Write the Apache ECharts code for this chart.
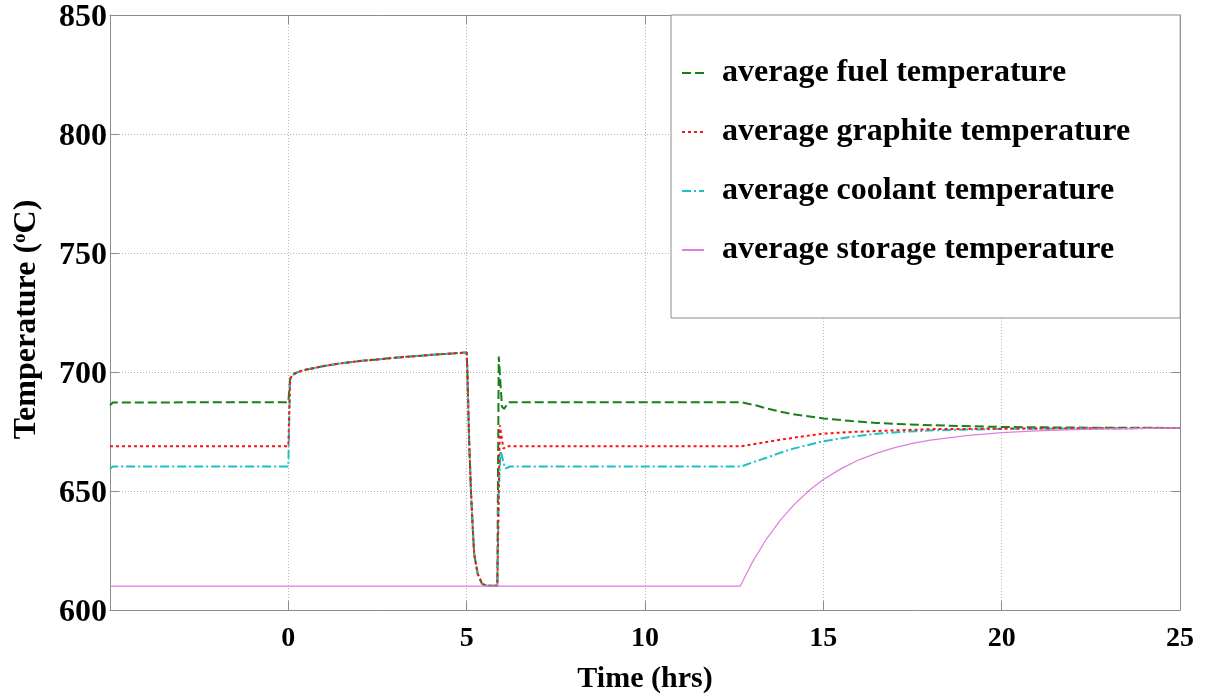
<!DOCTYPE html>
<html>
<head>
<meta charset="utf-8">
<script src="https://cdn.jsdelivr.net/npm/echarts@6/dist/echarts.min.js"></script>
<style>
html,body{margin:0;padding:0;background:#fff;}
#chart{width:1210px;height:698px;}
</style>
</head>
<body>
<div id="chart"></div>
<script>
// ---- data (time in hrs, temperature in °C) ----
const seriesNames = ['average fuel temperature','average graphite temperature','average coolant temperature','average storage temperature'];
const xTicks = [0, 5, 10, 15, 20, 25];
const yTicks = [600, 650, 700, 750, 800, 850];

// steady state before t = 0
const preT = [-5, -4.92, 0];
const fuelPre = [686.0, 687.2, 687.3];
const graphitePre = [668.8, 668.8, 668.8];
const coolantPre = [659.3, 660.3, 660.3];

// common transient (all three core temperatures coincide)
const commonT = [0.05, 0.1, 0.2, 0.4, 0.7, 1, 1.5, 2, 2.5, 3, 3.5, 4, 4.5, 5, 5.02, 5.07, 5.12, 5.17, 5.21, 5.31, 5.43, 5.57, 5.86];
const commonV = [697, 698.5, 699.5, 700.7, 701.6, 702.5, 703.7, 704.6, 705.3, 706, 706.6, 707.2, 707.7, 708.2, 700, 671, 650, 634.6, 623.6, 615.2, 611, 610.2, 610.2];

// recovery and long-term behaviour
const fuelPostT = [5.88, 5.9, 5.99, 6.05, 6.17, 12.7, 13.1, 13.41, 13.8, 14.16, 15, 15.8, 16.5, 17.3, 18.1, 20, 22.5, 25];
const fuelPostV = [660, 706.5, 685.4, 684.5, 687.3, 687.3, 686.0, 684.7, 683.3, 682.2, 680.5, 679.4, 678.6, 678.0, 677.6, 676.9, 676.6, 676.5];

const graphitePostT = [5.9, 5.93, 6.03, 6.12, 12.7, 13.41, 14.16, 15, 15.8, 16.5, 18.1, 20, 25];
const graphitePostV = [650, 677.6, 667.8, 668.8, 668.8, 670.6, 672.4, 674.1, 674.8, 675.2, 676.0, 676.2, 676.5];

const coolantPostT = [5.9, 5.95, 6.08, 6.22, 12.7, 13.05, 13.41, 13.8, 14.16, 15, 15.8, 16.5, 17.3, 18.1, 20, 25];
const coolantPostV = [650, 667, 659.4, 660.3, 660.3, 662.2, 664, 666.1, 667.8, 670.9, 672.8, 674.1, 674.9, 675.5, 676.1, 676.5];

const storageT = [-5, 12.67, 13.0, 13.4, 13.8, 14.2, 14.6, 15.0, 15.5, 16.0, 16.5, 17.0, 17.5, 18.0, 19.0, 20.0, 21.0, 22.0, 23.0, 25.0];
const storageV = [610, 610, 619.8, 629.7, 637.9, 644.6, 650.2, 654.8, 659.4, 663.1, 665.9, 668.2, 670.0, 671.4, 673.3, 674.5, 675.3, 675.8, 676.1, 676.5];

function pairs(ts, vs) { return ts.map((t, i) => [t, vs[i]]); }
const common = pairs(commonT, commonV);
const fuelData = pairs(preT, fuelPre).concat(common, pairs(fuelPostT, fuelPostV));
const graphiteData = pairs(preT, graphitePre).concat(common, pairs(graphitePostT, graphitePostV));
const coolantData = pairs(preT, coolantPre).concat(common, pairs(coolantPostT, coolantPostV));
const storageData = pairs(storageT, storageV);

const FONT = '"Liberation Serif", "Times New Roman", serif';
const AXIS_COLOR = '#8c8c8c';

const chart = echarts.init(document.getElementById('chart'), null, {renderer: 'canvas'});

const baseX = {
  type: 'value', min: -5, max: 25, interval: 5,
  axisLine: {show: true, onZero: false, lineStyle: {color: AXIS_COLOR, width: 1}},
  axisTick: {show: true, inside: true, length: 9, lineStyle: {color: AXIS_COLOR}},
  splitLine: {show: false}
};
const baseY = {
  type: 'value', min: 600, max: 850, interval: 50,
  axisLine: {show: true, onZero: false, lineStyle: {color: AXIS_COLOR, width: 1}},
  axisTick: {show: true, inside: true, length: 9, lineStyle: {color: AXIS_COLOR}},
  splitLine: {show: false}
};

chart.setOption({
  backgroundColor: '#ffffff',
  animation: false,
  grid: {left: 110, right: 30, top: 15, bottom: 88, containLabel: false, outerBoundsMode: 'none'},
  xAxis: [
    Object.assign({}, baseX, {
      position: 'bottom',
      name: 'Time (hrs)', nameLocation: 'middle', nameGap: 54,
      nameTextStyle: {fontFamily: FONT, fontWeight: 'bold', fontSize: 30, color: '#000'},
      axisLabel: {show: true, margin: 15, fontFamily: FONT, fontWeight: 'bold', fontSize: 28, color: '#000',
        formatter: v => (xTicks.indexOf(v) >= 0 ? String(v) : '')},
      splitLine: {show: true, lineStyle: {color: '#b4b4b4', type: [1, 2], width: 1}}
    }),
    Object.assign({}, baseX, {position: 'top', axisLabel: {show: false}})
  ],
  yAxis: [
    Object.assign({}, baseY, {
      position: 'left',
      name: 'Temperature ({sup|o}C)', nameLocation: 'middle', nameGap: 67,
      nameTextStyle: {fontFamily: FONT, fontWeight: 'bold', fontSize: 32, color: '#000', padding: [0, 14, 0, 0],
        rich: {sup: {fontFamily: FONT, fontWeight: 'bold', fontSize: 19, color: '#000', verticalAlign: 'top', padding: [0, 0, 12, 0]}}},
      axisLabel: {show: true, margin: 3, fontFamily: FONT, fontWeight: 'bold', fontSize: 32, color: '#000',
        formatter: v => (yTicks.indexOf(v) >= 0 ? '{v|' + v + '}' : ''),
        rich: {v: {fontFamily: FONT, fontWeight: 'bold', fontSize: 32, color: '#000', padding: [6, 0, 0, 0]}}},
      splitLine: {show: true, lineStyle: {color: '#b4b4b4', type: [1, 2], width: 1}}
    }),
    Object.assign({}, baseY, {position: 'right', axisLabel: {show: false}})
  ],
  legend: {
    data: seriesNames,
    orient: 'vertical',
    left: 671, top: 15,
    padding: [42, 50, 52, 10],
    itemGap: 27,
    itemWidth: 22, itemHeight: 12,
    backgroundColor: '#ffffff',
    borderColor: '#8c8c8c', borderWidth: 1,
    itemStyle: {opacity: 0},
    textStyle: {fontFamily: FONT, fontWeight: 'bold', fontSize: 32, color: '#000', padding: [0, 0, 0, 13]},
    selectedMode: false
  },
  series: [
    {name: seriesNames[0], type: 'line', data: fuelData, showSymbol: false, symbol: 'none', z: 2,
      lineStyle: {color: '#1a7f1a', width: 2, type: [9, 4]}, itemStyle: {color: '#1a7f1a'}},
    {name: seriesNames[2], type: 'line', data: coolantData, showSymbol: false, symbol: 'none', z: 3,
      lineStyle: {color: '#1fc0c4', width: 2, type: [9, 3, 2, 3]}, itemStyle: {color: '#1fc0c4'}},
    {name: seriesNames[1], type: 'line', data: graphiteData, showSymbol: false, symbol: 'none', z: 4,
      lineStyle: {color: '#ff1010', width: 2, type: [3, 3]}, itemStyle: {color: '#ff1010'}},
    {name: seriesNames[3], type: 'line', data: storageData, showSymbol: false, symbol: 'none', z: 5,
      lineStyle: {color: '#dd7fdd', width: 1.2, type: 'solid'}, itemStyle: {color: '#dd7fdd'}}
  ]
});
</script>
</body>
</html>
